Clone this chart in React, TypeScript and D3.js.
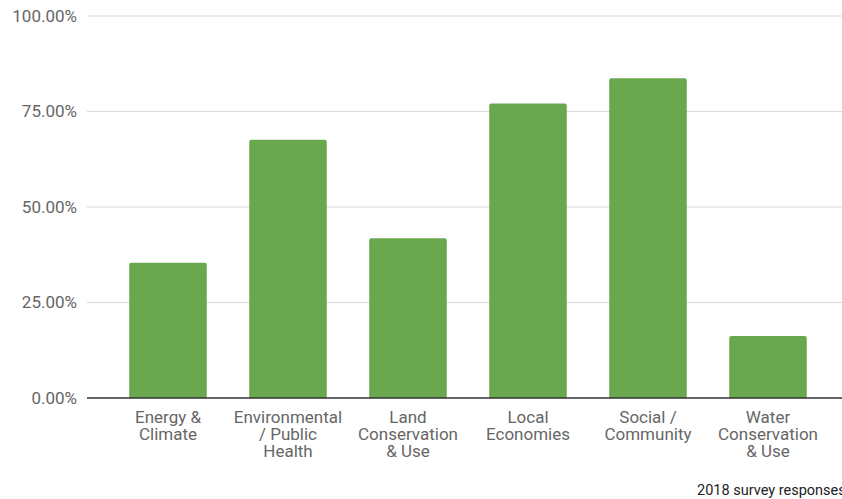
import React from "react";
import * as d3 from "d3";

const categories: string[][] = [
  ["Energy &", "Climate"],
  ["Environmental", "/ Public", "Health"],
  ["Land", "Conservation", "& Use"],
  ["Local", "Economies"],
  ["Social /", "Community"],
  ["Water", "Conservation", "& Use"],
];
const values: number[] = [0.354, 0.676, 0.418, 0.771, 0.837, 0.162];
const yTicks: number[] = [0, 0.25, 0.5, 0.75, 1];
const footnote = "2018 survey responses";

const W = 842;
const H = 499;

export default function App() {
  const keys = categories.map((c) => c.join(" "));
  const x = d3.scaleBand<string>().domain(keys).range([108, 828]).paddingInner(0.354).paddingOuter(0.177);
  const y = d3.scaleLinear().domain([0, 1]).range([398, 16]);
  const fmt = d3.format(".2%");
  const font = "Roboto, 'Noto Sans', sans-serif";
  const r = 2;

  const barPath = (x0: number, w: number, yTop: number, yBot: number) => {
    return `M${x0},${yBot}V${yTop + r}Q${x0},${yTop} ${x0 + r},${yTop}H${x0 + w - r}Q${x0 + w},${yTop} ${x0 + w},${yTop + r}V${yBot}Z`;
  };

  return (
    <svg
      width={W}
      height={H}
      style={{ position: "absolute", left: 0, top: 0, background: "#fff" }}
      fontFamily={font}
    >
      {yTicks.map((t) => (
        <g key={t}>
          {t !== 0 && (
            <line x1={87} x2={W} y1={y(t)} y2={y(t)} stroke="#d9d9d9" strokeWidth={1} />
          )}
          <text x={77} y={y(t)} dy="0.35em" textAnchor="end" fontSize={17} fill="#666">
            {fmt(t)}
          </text>
        </g>
      ))}
      {keys.map((k, i) => (
        <path
          key={k}
          d={barPath(x(k)!, x.bandwidth(), y(values[i]), y(0))}
          fill="#6aa84f"
        />
      ))}
      <line x1={87} x2={W} y1={y(0)} y2={y(0)} stroke="#333" strokeWidth={1.5} />
      {categories.map((lines, i) => (
        <text
          key={keys[i]}
          x={x(keys[i])! + x.bandwidth() / 2}
          y={416.7}
          textAnchor="middle"
          fontSize={17}
          fill="#666"
        >
          {lines.map((l, j) => (
            <tspan key={j} x={x(keys[i])! + x.bandwidth() / 2} dy={j === 0 ? "0.35em" : 17.4}>
              {l}
            </tspan>
          ))}
        </text>
      ))}
      <text x={697} y={495} fontSize={14.5} fill="#222">
        {footnote}
      </text>
    </svg>
  );
}
